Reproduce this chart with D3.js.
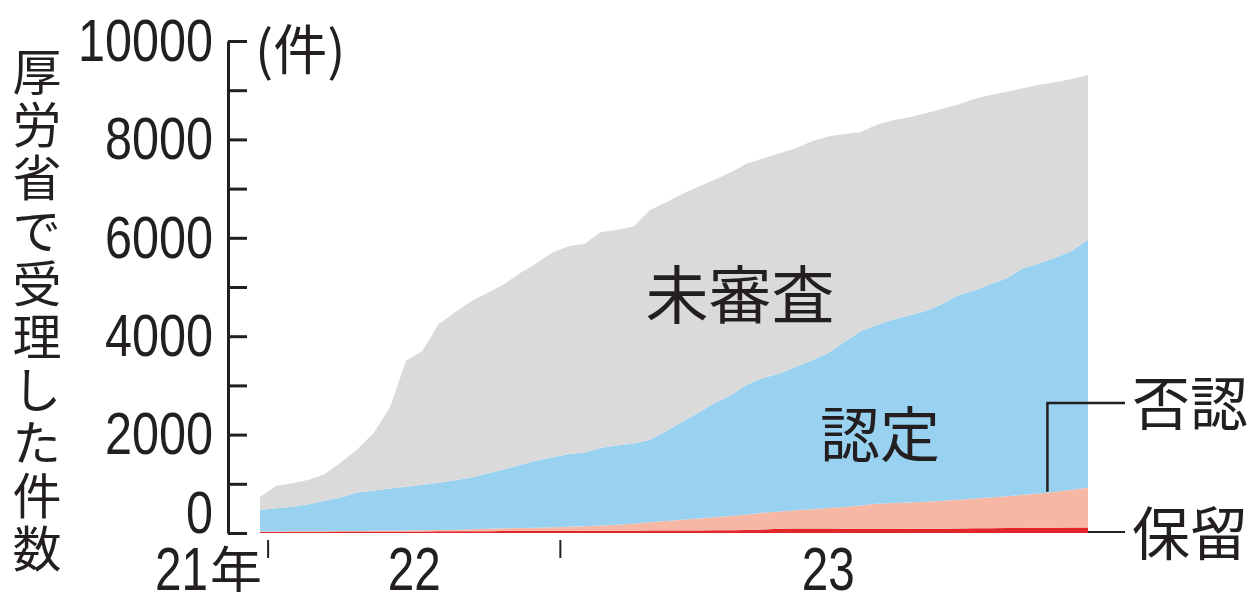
<!DOCTYPE html>
<html>
<head>
<meta charset="utf-8">
<script src="https://cdn.jsdelivr.net/npm/d3@7"></script>
<style>
  body { margin: 0; background: #fff; }
  text { fill: #231f20; }
</style>
</head>
<body>
<svg id="chart" width="1252" height="592"></svg>
<script>
// one point per published tally, left to right
const received = [730, 960, 1010, 1080, 1200, 1440, 1700, 2030, 2550, 3500,
  3700, 4250, 4480, 4710, 4880, 5050, 5280, 5480, 5700, 5830,
  5880, 6120, 6160, 6230, 6560, 6720, 6890, 7040, 7180, 7330,
  7510, 7610, 7720, 7820, 7960, 8060, 8110, 8150, 8300, 8390,
  8450, 8530, 8620, 8710, 8820, 8900, 8970, 9040, 9110, 9160,
  9230, 9310];
const approved = [440, 470, 500, 545, 620, 680, 780, 815, 855, 890,
  925, 960, 1005, 1055, 1125, 1195, 1280, 1365, 1425, 1475,
  1500, 1580, 1610, 1630, 1670, 1825, 1990, 2145, 2320, 2450,
  2645, 2740, 2805, 2920, 3025, 3150, 3350, 3540, 3635, 3730,
  3800, 3875, 3995, 4155, 4225, 4340, 4435, 4605, 4675, 4760,
  4850, 5040];
const rejected = [10, 12, 12, 12, 12, 12, 12, 15, 18, 22,
  26, 27, 33, 40, 47, 55, 60, 66, 75, 83,
  93, 107, 125, 145, 170, 195, 220, 247, 267, 293,
  315, 340, 350, 370, 395, 420, 445, 480, 515, 528,
  538, 549, 567, 585, 608, 622, 645, 672, 700, 732,
  770, 810];
const pending = [20, 20, 22, 25, 25, 28, 30, 30, 30, 30,
  30, 35, 35, 35, 38, 40, 40, 40, 40, 42,
  45, 45, 45, 45, 50, 50, 50, 50, 55, 55,
  60, 70, 85, 90, 90, 90, 85, 80, 80, 82,
  84, 86, 88, 90, 95, 98, 100, 103, 105, 108,
  110, 110];

const yearLabels = ["21年", "22", "23"];
const yearBreaks = [0.5, 18.5];   // where 2022 and 2023 start
const yTicks = d3.range(0, 10001, 1000);
const yTitle = "厚労省で受理した件数";

const keys = ["保留", "否認", "認定", "未審査"];
const colors = { "保留": "#e3262b", "否認": "#f6b8a4", "認定": "#99d2f0", "未審査": "#dadada" };

const svg = d3.select("#chart");
const numFont = "'Liberation Sans', Arial, sans-serif";
const cjkFont = "'Noto Sans CJK JP', 'Noto Sans', sans-serif";
const digitW = 27;   // condensed digits

const x = d3.scaleLinear().domain([0, received.length - 1]).range([260, 1088]);
const y = d3.scaleLinear().domain([0, 10000]).range([533, 41]);

const rows = received.map((t, i) => ({
  i: i,
  "保留": pending[i],
  "否認": rejected[i],
  "認定": approved[i],
  "未審査": t - approved[i] - rejected[i] - pending[i]
}));
const series = d3.stack().keys(keys)(rows);

const area = d3.area()
  .x(d => x(d.data.i))
  .y0(d => y(d[0]))
  .y1(d => y(d[1]));

svg.append("g").selectAll("path")
  .data(series)
  .join("path")
    .attr("fill", d => colors[d.key])
    .attr("d", area);

// y axis: ticks point into the plot, labels every 2000
const yAxis = svg.append("g")
  .attr("transform", "translate(228,0)")
  .call(d3.axisLeft(y)
    .tickValues(yTicks)
    .tickSize(-19)
    .tickSizeOuter(0)
    .tickPadding(15)
    .tickFormat(d => d % 2000 === 0 ? d : ""));
yAxis.select(".domain").attr("stroke", "#231f20").attr("stroke-width", 3);
yAxis.selectAll(".tick line").attr("stroke", "#231f20").attr("stroke-width", 3);
yAxis.selectAll(".tick text")
  .filter(d => d % 2000 === 0)
  .attr("font-family", numFont)
  .attr("font-size", 60)
  .attr("fill", "#231f20")
  .attr("textLength", d => String(d).length * digitW)
  .attr("lengthAdjust", "spacingAndGlyphs")
  .filter(d => d === 0)
    .attr("y", -20);

svg.append("text")
  .attr("x", 255).attr("y", 70)
  .attr("font-family", cjkFont)
  .attr("font-size", 54)
  .text("(件)");

// vertical title
svg.append("text")
  .attr("x", 37)
  .attr("y", 47)
  .style("writing-mode", "vertical-rl")
  .style("letter-spacing", "4px")
  .attr("font-family", cjkFont)
  .attr("font-size", 49)
  .text(yTitle);

// x axis: year boundaries and year labels
svg.append("g").selectAll("line")
  .data(yearBreaks)
  .join("line")
    .attr("x1", d => x(d)).attr("x2", d => x(d))
    .attr("y1", 540).attr("y2", 558)
    .attr("stroke", "#231f20")
    .attr("stroke-width", 2);

const lastIdx = received.length - 1;
const yearPos = [
  { label: yearLabels[0], xpos: x(yearBreaks[0]) - 6, anchor: "end" },
  { label: yearLabels[1], xpos: x((yearBreaks[0] + yearBreaks[1]) / 2), anchor: "middle" },
  { label: yearLabels[2], xpos: x((yearBreaks[1] + lastIdx + 0.5) / 2), anchor: "middle" }
];
const xg = svg.append("g");
yearPos.forEach(d => {
  const m = d.label.match(/^(\d+)(.*)$/);
  let endX = d.xpos;
  if (m[2]) {
    const suf = xg.append("text")
      .attr("x", d.xpos).attr("y", 590)
      .attr("text-anchor", "end")
      .attr("font-family", cjkFont)
      .attr("font-size", 52)
      .text(m[2]);
    endX = d.xpos - suf.node().getComputedTextLength() - 2;
  }
  xg.append("text")
    .attr("x", d.anchor === "end" ? endX : d.xpos)
    .attr("y", 590)
    .attr("text-anchor", d.anchor)
    .attr("font-family", numFont)
    .attr("font-size", 62)
    .attr("textLength", m[1].length * 26.5)
    .attr("lengthAdjust", "spacingAndGlyphs")
    .text(m[1]);
});

// series labels
const inLabels = [
  { text: "未審査", cx: 740, cy: 290, size: 63 },
  { text: "認定", cx: 880, cy: 430, size: 60 }
];
svg.append("g").selectAll("text")
  .data(inLabels)
  .join("text")
    .attr("x", d => d.cx).attr("y", d => d.cy)
    .attr("text-anchor", "middle")
    .attr("dominant-baseline", "central")
    .attr("font-family", cjkFont)
    .attr("font-size", d => d.size)
    .text(d => d.text);

// leader lines to the right-hand labels
const leaderX = x(lastIdx - 2.5);
svg.append("path")
  .attr("d", `M${leaderX},${y(series[1][lastIdx - 2][1])}V403H1125`)
  .attr("fill", "none")
  .attr("stroke", "#231f20")
  .attr("stroke-width", 2.5);
svg.append("path")
  .attr("d", `M${x(lastIdx)},${y(0) - 1}H1125`)
  .attr("fill", "none")
  .attr("stroke", "#231f20")
  .attr("stroke-width", 2);

svg.append("g").selectAll("text")
  .data([{ text: "否認", cy: 400 }, { text: "保留", cy: 530 }])
  .join("text")
    .attr("x", 1132).attr("y", d => d.cy)
    .attr("dominant-baseline", "central")
    .attr("font-family", cjkFont)
    .attr("font-size", 58)
    .text(d => d.text);
</script>
</body>
</html>
